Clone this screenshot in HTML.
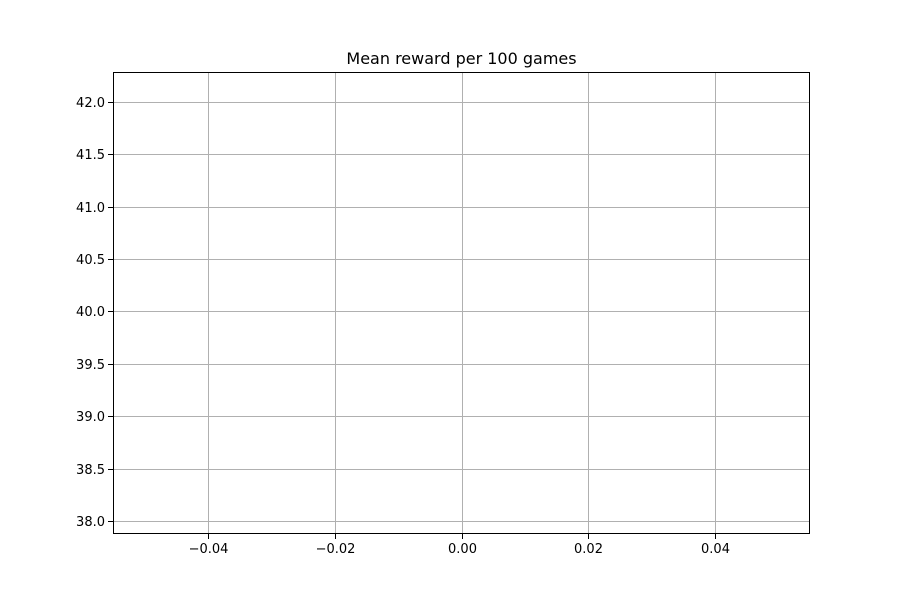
<!DOCTYPE html>
<html>
<head>
<meta charset="utf-8">
<style>
  html, body { margin: 0; padding: 0; background: #fff; }
  body { width: 900px; height: 600px; overflow: hidden; font-family: "Liberation Sans", "DejaVu Sans", sans-serif; }
  svg text { font-family: "DejaVu Sans", "Liberation Sans", sans-serif; }
</style>
</head>
<body>
<svg id="chart" width="900" height="600" viewBox="0 0 900 600">
  <rect x="0" y="0" width="900" height="600" fill="#fff"/>
  <text x="461.5" y="64" text-anchor="middle" font-size="16" fill="#000">Mean reward per 100 games</text>
  <g id="grid"></g>
  <g id="series"></g>
  <rect x="113.5" y="72.5" width="696" height="461" fill="none" stroke="#000" stroke-width="1"/>
  <g id="xaxis"></g>
  <g id="yaxis"></g>
</svg>
<script>
const xValues = [0];
const yValues = [40.08];
const xTicks = [-0.04, -0.02, 0.00, 0.02, 0.04];
const xTickLabels = ["\u22120.04", "\u22120.02", "0.00", "0.02", "0.04"];
const yTicks = [38.0, 38.5, 39.0, 39.5, 40.0, 40.5, 41.0, 41.5, 42.0];
const yTickLabels = ["38.0", "38.5", "39.0", "39.5", "40.0", "40.5", "41.0", "41.5", "42.0"];

const L = 113, R = 810, T = 72, B = 534;
const xMin = -0.055, xMax = 0.055;
const yC = yValues[0], yHalf = Math.abs(yC) * 0.05 * 1.1;
const yMin = yC - yHalf, yMax = yC + yHalf;
const sx = v => L + (v - xMin) / (xMax - xMin) * (R - L);
const sy = v => B - (v - yMin) / (yMax - yMin) * (B - T);
const snap = v => Math.round(v) + 0.5;
const NS = "http://www.w3.org/2000/svg";
const grid = document.getElementById('grid');
const xa = document.getElementById('xaxis');
const ya = document.getElementById('yaxis');

xTicks.forEach((t, i) => {
  const x = snap(sx(t));
  const g = document.createElementNS(NS, 'line');
  g.setAttribute('x1', x); g.setAttribute('x2', x); g.setAttribute('y1', T); g.setAttribute('y2', B);
  g.setAttribute('stroke', '#b0b0b0'); g.setAttribute('stroke-width', '1');
  
  
  grid.appendChild(g);
  const tk = document.createElementNS(NS, 'line');
  tk.setAttribute('x1', x); tk.setAttribute('x2', x); tk.setAttribute('y1', B); tk.setAttribute('y2', B + 5);
  tk.setAttribute('stroke', '#000'); tk.setAttribute('stroke-width', '1');
  
  
  xa.appendChild(tk);
  const tx = document.createElementNS(NS, 'text');
  tx.setAttribute('x', x); tx.setAttribute('y', B + 19); tx.setAttribute('text-anchor', 'middle');
  tx.setAttribute('font-size', '13'); tx.textContent = xTickLabels[i];
  
  
  xa.appendChild(tx);
});

yTicks.forEach((t, i) => {
  const y = snap(sy(t));
  const g = document.createElementNS(NS, 'line');
  g.setAttribute('x1', L); g.setAttribute('x2', R); g.setAttribute('y1', y); g.setAttribute('y2', y);
  g.setAttribute('stroke', '#b0b0b0'); g.setAttribute('stroke-width', '1');
  
  
  grid.appendChild(g);
  const tk = document.createElementNS(NS, 'line');
  tk.setAttribute('x1', L - 5); tk.setAttribute('x2', L); tk.setAttribute('y1', y); tk.setAttribute('y2', y);
  tk.setAttribute('stroke', '#000'); tk.setAttribute('stroke-width', '1');
  
  
  ya.appendChild(tk);
  const tx = document.createElementNS(NS, 'text');
  tx.setAttribute('x', L - 8); tx.setAttribute('y', y + 4.5); tx.setAttribute('text-anchor', 'end');
  tx.setAttribute('font-size', '13'); tx.textContent = yTickLabels[i];
  
  
  ya.appendChild(tx);
});

const d = xValues.map((v, i) => (i ? 'L' : 'M') + sx(v) + ' ' + sy(yValues[i])).join(' ');
const path = document.createElementNS(NS, 'path');
path.setAttribute('d', d);
path.setAttribute('fill', 'none'); path.setAttribute('stroke', '#1f77b4'); path.setAttribute('stroke-width', '1.5');


document.getElementById('series').appendChild(path);
</script>
</body>
</html>
